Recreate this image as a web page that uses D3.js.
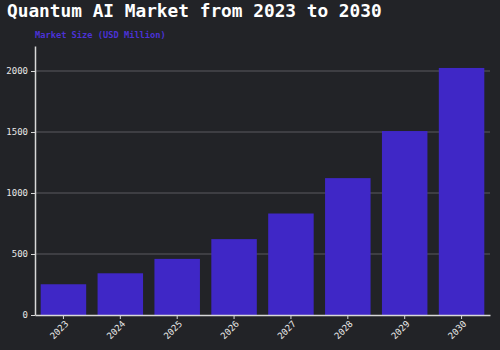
<!DOCTYPE html>
<html>
<head>
<meta charset="utf-8">
<script src="https://d3js.org/d3.v7.min.js"></script>
<style>
  body { margin: 0; background: #222327; }
  svg { display: block; }
</style>
</head>
<body>
<svg id="chart" width="500" height="350"></svg>
<script>
// chart data
var years = ["2023", "2024", "2025", "2026", "2027", "2028", "2029", "2030"];
var marketSize = [252, 342, 460, 622, 832, 1122, 1508, 2025];
var yTicks = [0, 500, 1000, 1500, 2000];

var margin = {top: 46, right: 10, bottom: 35, left: 35};
var width = 500, height = 350;
var mono = "'DejaVu Sans Mono', 'Liberation Mono', monospace";

var svg = d3.select("#chart");
svg.append("rect").attr("width", width).attr("height", height).attr("fill", "#222327");

var x = d3.scaleBand()
          .domain(years)
          .range([margin.left, width - margin.right])
          .paddingInner(0.2)
          .paddingOuter(0.1);

var y = d3.scaleLinear()
          .domain([0, 2205])
          .range([height - margin.bottom, margin.top]);

// grid lines
svg.append("g")
   .selectAll("line")
   .data(yTicks.slice(1))
   .enter()
   .append("line")
   .attr("x1", margin.left)
   .attr("x2", width - margin.right)
   .attr("y1", function(d) { return y(d); })
   .attr("y2", function(d) { return y(d); })
   .style("stroke", "#5a5b60")
   .style("stroke-width", 1);

// bars
svg.append("g")
   .selectAll("rect")
   .data(years)
   .enter()
   .append("rect")
   .attr("x", function(d) { return x(d); })
   .attr("width", x.bandwidth())
   .attr("y", function(d, i) { return y(marketSize[i]); })
   .attr("height", function(d, i) { return y(0) - y(marketSize[i]); })
   .style("fill", "#3f27c6");

// axes
var yAxis = svg.append("g")
   .attr("transform", "translate(" + margin.left + ",0)")
   .call(d3.axisLeft(y).tickValues(yTicks).tickFormat(d3.format("d"))
           .tickSize(4).tickPadding(3).tickSizeOuter(0));

var xAxis = svg.append("g")
   .attr("transform", "translate(0," + (height - margin.bottom) + ")")
   .call(d3.axisBottom(x).tickSize(4).tickSizeOuter(0));

[xAxis, yAxis].forEach(function(g) {
  g.selectAll("path, line").style("stroke", "#d8d8d8");
  g.select(".domain").style("stroke-width", 1.5);
  g.selectAll("text")
   .style("fill", "#e8e8e8")
   .style("font-family", mono)
   .style("font-size", "9px");
});

xAxis.selectAll("text")
     .attr("text-anchor", "end")
     .attr("dx", "-0.3em")
     .attr("dy", "0.4em")
     .attr("transform", "rotate(-45)");

// title and axis label
svg.append("text")
   .attr("x", 7)
   .attr("y", 17)
   .text("Quantum AI Market from 2023 to 2030")
   .style("fill", "#ffffff")
   .style("font-family", mono)
   .style("font-weight", "bold")
   .style("font-size", "17.8px");

svg.append("text")
   .attr("x", 35)
   .attr("y", 38)
   .text("Market Size (USD Million)")
   .style("fill", "#4b32d6")
   .style("font-family", mono)
   .style("font-weight", "bold")
   .style("font-size", "8.7px");
</script>
</body>
</html>
